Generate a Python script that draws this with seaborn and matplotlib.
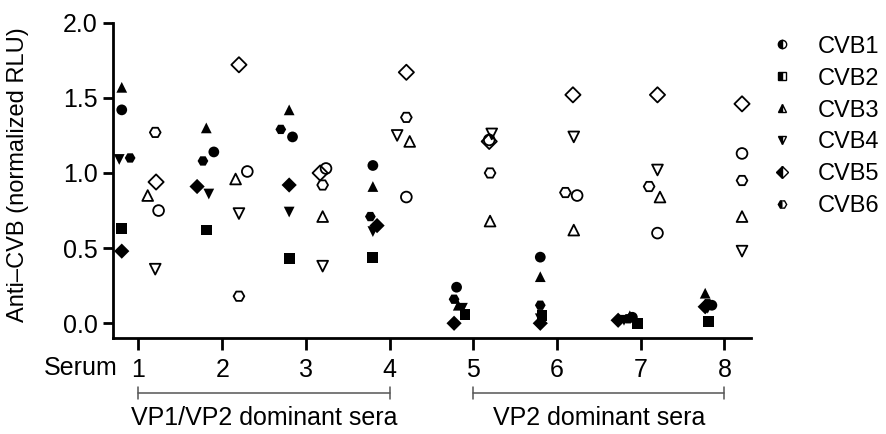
import numpy as np
import pandas as pd
import matplotlib
matplotlib.use('Agg')
import matplotlib.pyplot as plt
from matplotlib.lines import Line2D
import matplotlib.transforms as mtransforms
import seaborn as sns

# Sera 1-8
sera = [1, 2, 3, 4, 5, 6, 7, 8]
viruses = ['CVB1', 'CVB2', 'CVB3', 'CVB4', 'CVB5', 'CVB6']

# Filled symbols (left of each serum)
filled_cvb1 = [1.42, 1.14, 1.24, 1.05, 0.24, 0.44, 0.04, 0.12]
filled_cvb2 = [0.63, 0.62, 0.43, 0.44, 0.06, 0.05, 0.00, 0.01]
filled_cvb3 = [1.57, 1.30, 1.42, 0.91, 0.12, 0.31, 0.05, 0.20]
filled_cvb4 = [1.09, 0.86, 0.74, 0.61, 0.10, 0.03, 0.02, 0.10]
filled_cvb5 = [0.48, 0.91, 0.92, 0.65, 0.00, 0.00, 0.02, 0.11]
filled_cvb6 = [1.10, 1.08, 1.29, 0.71, 0.16, 0.12, 0.03, 0.13]

# Open symbols (right of each serum), no CVB2
open_cvb1 = [0.75, 1.01, 1.03, 0.84, 1.22, 0.85, 0.60, 1.13]
open_cvb3 = [0.85, 0.96, 0.71, 1.21, 0.68, 0.62, 0.84, 0.71]
open_cvb4 = [0.36, 0.73, 0.38, 1.25, 1.26, 1.24, 1.02, 0.48]
open_cvb5 = [0.94, 1.72, 1.00, 1.67, 1.21, 1.52, 1.52, 1.46]
open_cvb6 = [1.27, 0.18, 0.92, 1.37, 1.00, 0.87, 0.91, 0.95]

# horizontal scatter offsets
filled_off = {
    'CVB1': [-0.20, -0.10, -0.16, -0.20, -0.20, -0.20, -0.10, -0.15],
    'CVB2': [-0.20, -0.19, -0.20, -0.20, -0.10, -0.18, -0.04, -0.19],
    'CVB3': [-0.20, -0.19, -0.20, -0.20, -0.18, -0.20, -0.13, -0.23],
    'CVB4': [-0.23, -0.16, -0.20, -0.20, -0.13, -0.20, -0.20, -0.20],
    'CVB5': [-0.20, -0.30, -0.20, -0.15, -0.23, -0.20, -0.27, -0.23],
    'CVB6': [-0.10, -0.23, -0.30, -0.23, -0.23, -0.20, -0.15, -0.20],
}
open_off = {
    'CVB1': [0.24, 0.30, 0.24, 0.20, 0.19, 0.24, 0.20, 0.21],
    'CVB3': [0.11, 0.16, 0.20, 0.24, 0.20, 0.20, 0.23, 0.21],
    'CVB4': [0.20, 0.20, 0.20, 0.09, 0.22, 0.20, 0.20, 0.21],
    'CVB5': [0.21, 0.20, 0.17, 0.20, 0.19, 0.19, 0.20, 0.21],
    'CVB6': [0.20, 0.20, 0.20, 0.20, 0.20, 0.10, 0.10, 0.21],
}

groups = ['VP1/VP2 dominant sera', 'VP2 dominant sera']
group_span = [(1, 4), (5, 8)]

filled = {'CVB1': filled_cvb1, 'CVB2': filled_cvb2, 'CVB3': filled_cvb3,
          'CVB4': filled_cvb4, 'CVB5': filled_cvb5, 'CVB6': filled_cvb6}
opened = {'CVB1': open_cvb1, 'CVB3': open_cvb3, 'CVB4': open_cvb4,
          'CVB5': open_cvb5, 'CVB6': open_cvb6}

def to_long(d, offs):
    rows = []
    for v, vals in d.items():
        for s, val, o in zip(sera, vals, offs[v]):
            rows.append({'virus': v, 'serum': s, 'x': s + o, 'value': val})
    return pd.DataFrame(rows)

df_filled = to_long(filled, filled_off)
df_open = to_long(opened, open_off)

markers = {'CVB1': 'o', 'CVB2': 's', 'CVB3': '^', 'CVB4': 'v', 'CVB5': 'D', 'CVB6': 'H'}

sns.set_style('white')
plt.rcParams['font.family'] = ['Liberation Sans', 'DejaVu Sans']
plt.rcParams['text.color'] = 'black'
plt.rcParams['axes.labelcolor'] = 'black'
plt.rcParams['xtick.color'] = 'black'
plt.rcParams['ytick.color'] = 'black'

fig = plt.figure(figsize=(8.86, 4.34), dpi=100)
ax = fig.add_axes([0.1275, 0.2205, 0.7201, 0.7272])

sns.scatterplot(data=df_filled, x='x', y='value', style='virus', markers=markers,
                color='black', s=60, linewidth=0, legend=False, ax=ax, zorder=3)

sns.scatterplot(data=df_open, x='x', y='value', style='virus', markers=markers,
                color='black', s=60, legend=False, ax=ax, zorder=3)
coll = ax.collections[-1]
coll.set_facecolor('none')
coll.set_edgecolor('black')
coll.set_linewidth(1.3)

ax.set_xlim(0.695, 8.317)
ax.set_ylim(-0.1, 2.0)
ax.set_yticks([0.0, 0.5, 1.0, 1.5, 2.0])
ax.set_yticklabels(['0.0', '0.5', '1.0', '1.5', '2.0'])
ax.set_xticks(sera)
ax.set_xticklabels([str(s) for s in sera])
ax.set_xlabel('')
ax.set_ylabel('Anti\u2013CVB (normalized RLU)', fontsize=17)
ax.yaxis.set_label_coords(-0.132, 0.52)

for side in ['top', 'right']:
    ax.spines[side].set_visible(False)
for side in ['left', 'bottom']:
    ax.spines[side].set_linewidth(2)
    ax.spines[side].set_color('black')
ax.tick_params(axis='y', direction='out', length=7, width=2, pad=4, labelsize=18, left=True)
ax.tick_params(axis='x', direction='out', length=8.5, width=2, pad=6, labelsize=18, bottom=True)

trans = mtransforms.blended_transform_factory(ax.transData, ax.transAxes)
ax.text(0.745, -0.094, 'Serum', transform=trans, ha='right', va='center', fontsize=18)

for name, (a, b) in zip(groups, group_span):
    ax.plot([a, b], [-0.173, -0.173], transform=trans, color='#555555', lw=1.1, clip_on=False)
    for e in (a, b):
        ax.plot([e, e], [-0.154, -0.192], transform=trans, color='#555555', lw=1.1, clip_on=False)
    ax.text((a + b) / 2, -0.2525, name, transform=trans, ha='center', va='center', fontsize=18)

handles = [Line2D([], [], linestyle='none', marker=markers[v], fillstyle='left',
                  markerfacecolor='black', markerfacecoloralt='white',
                  markeredgecolor='black', markeredgewidth=1.0, markersize=6)
           for v in viruses]
fig.legend(handles, viruses, loc='upper left', bbox_to_anchor=(0.856, 0.945),
           frameon=False, fontsize=17, handlelength=1.0, handletextpad=1.0,
           labelspacing=0.42, borderpad=0)

fig.savefig('out.png', dpi=100)
